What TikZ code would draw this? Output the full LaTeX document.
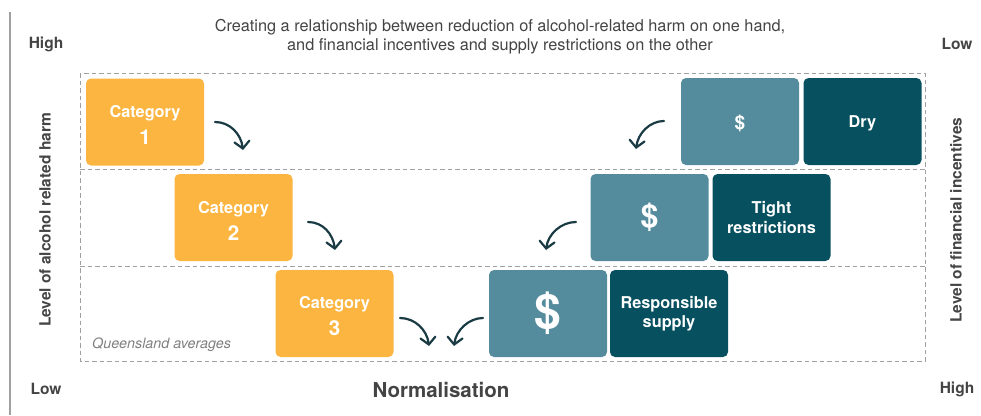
\documentclass[tikz,border=0pt]{standalone}
\usepackage{fontspec}
\setmainfont{TeX Gyre Heros}
\usetikzlibrary{arrows.meta,calc}
\definecolor{catorange}{HTML}{FBB540}
\definecolor{lightteal}{HTML}{558C9D}
\definecolor{darkteal}{HTML}{07505F}
\definecolor{textgray}{HTML}{444444}
\definecolor{dashgray}{HTML}{A0A0A0}
\definecolor{arrowcol}{HTML}{1B3B44}
\newcommand{\fsz}[2]{\fontsize{#1}{#2}\selectfont}
\newcommand{\catlabel}[1]{\rule{0pt}{18pt}Category\\[3pt]{\fsz{20.5}{24}#1}}
\tikzset{
  boxbase/.style={rounded corners=5pt, minimum width=118pt, minimum height=87pt,
    inner sep=0pt, text=white, align=center, font=\bfseries\fsz{16.3}{19.5}},
  catbox/.style={boxbase, fill=catorange, font=\bfseries\fsz{16.3}{24}},
  moneybox/.style={boxbase, fill=lightteal},
  darkbox/.style={boxbase, fill=darkteal},
  dashline/.style={draw=dashgray, line width=0.9pt, dash pattern=on 4.5pt off 3pt},
  curvearrow/.style={draw=arrowcol, line width=2.2pt, line cap=round,
    -{Straight Barb[length=7pt,width=15pt,line cap=round]}},
  axislabel/.style={text=textgray, font=\bfseries\fsz{15.5}{18}, inner sep=0pt}
}
\begin{document}
\begin{tikzpicture}[x=1pt,y=-1pt]
\useasboundingbox (0,0) rectangle (981,415);
% left vertical axis line
\coordinate (axtop) at (10,12);
\coordinate (axbot) at (10,415);
\draw[draw=dashgray, line width=2pt] (axtop) -- (axbot);
% title
\node[text=textgray, align=center, font=\fsz{16.3}{18.5}, inner sep=0pt] (title) at (500,36.5)
  {Creating a relationship between reduction of alcohol-related harm on one hand,\\
   and financial incentives and supply restrictions on the other};
% dashed frame and rows
\draw[dashline] (80,73) rectangle (925,361);
\draw[dashline] (80,169.5) -- (925,169.5);
\draw[dashline] (80,266) -- (925,266);
% axis labels
\node[axislabel] (highL) at (46,44) {High};
\node[axislabel] (lowL) at (46,389) {Low};
\node[axislabel] (lowR) at (957,44) {Low};
\node[axislabel] (highR) at (957,389) {High};
\node[axislabel, rotate=90] (harm) at (45,220) {Level of alcohol related harm};
\node[axislabel, rotate=90] (incent) at (956,220) {Level of financial incentives};
\node[text=textgray, font=\bfseries\fsz{20.5}{24}, inner sep=0pt] (norm) at (441,390) {Normalisation};
\node[text=gray, font=\itshape\fsz{14.3}{16}, anchor=west, inner sep=0pt] (qld) at (92,345) {Queensland averages};
% boxes
\node[catbox] (cat1) at (145,122) {\catlabel{1}};
\node[catbox] (cat2) at (233.5,217.5) {\catlabel{2}};
\node[catbox] (cat3) at (334.5,313.5) {\catlabel{3}};
\node[moneybox, font=\bfseries\fsz{19}{20}] (m1) at (740,121.5) {\rule{0pt}{18pt}\$};
\node[darkbox] (dry) at (862.5,121.5) {\rule{0pt}{16pt}Dry};
\node[moneybox, font=\bfseries\fsz{32}{34}] (m2) at (649.5,217.5) {\$};
\node[darkbox] (tight) at (771.5,217.5) {Tight\\restrictions};
\node[moneybox, font=\bfseries\fsz{48}{50}] (m3) at (548,313.5) {\$};
\node[darkbox] (resp) at (669,313.5) {Responsible\\supply};
% arrows
\coordinate (a1s) at (215,122); \coordinate (a1e) at (243,150);
\coordinate (b1s) at (664,121); \coordinate (b1e) at (636,149);
\coordinate (a2s) at (308,222); \coordinate (a2e) at (335,250);
\coordinate (b2s) at (576,222); \coordinate (b2e) at (546,250);
\coordinate (a3s) at (400,318); \coordinate (a3e) at (429,346);
\coordinate (b3s) at (483,318); \coordinate (b3e) at (454,346);
\draw[curvearrow] (a1s) .. controls ($(a1s)+(15,0)$) and ($(a1e)+(-2,-16)$) .. (a1e);
\draw[curvearrow] (b1s) .. controls ($(b1s)+(-14,0)$) and ($(b1e)+(2,-16)$) .. (b1e);
\draw[curvearrow] (a2s) .. controls ($(a2s)+(15,0)$) and ($(a2e)+(-2,-16)$) .. (a2e);
\draw[curvearrow] (b2s) .. controls ($(b2s)+(-15,0)$) and ($(b2e)+(2,-16)$) .. (b2e);
\draw[curvearrow] (a3s) .. controls ($(a3s)+(15,0)$) and ($(a3e)+(-2,-16)$) .. (a3e);
\draw[curvearrow] (b3s) .. controls ($(b3s)+(-14,0)$) and ($(b3e)+(2,-16)$) .. (b3e);
\end{tikzpicture}
\end{document}
